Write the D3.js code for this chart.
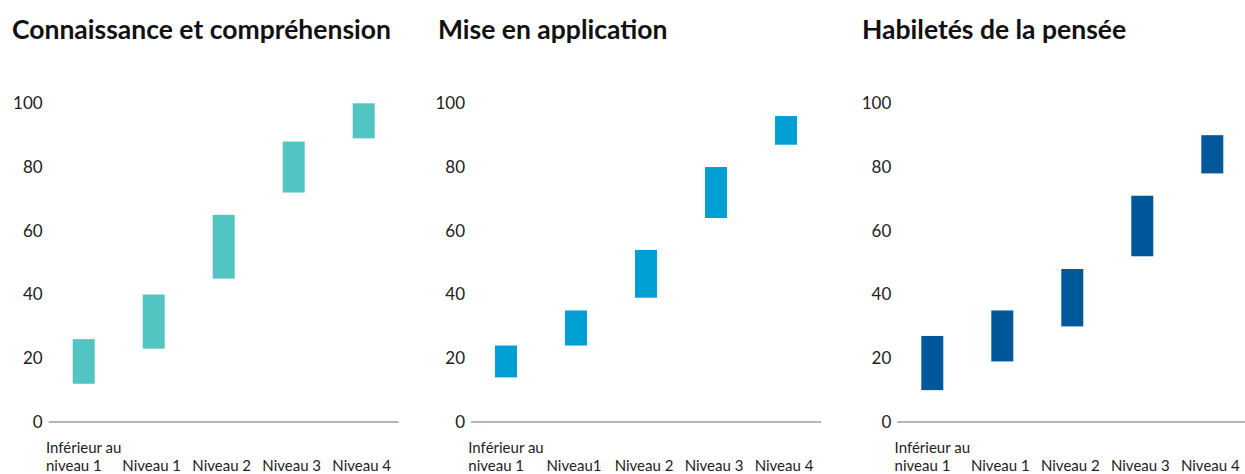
<!DOCTYPE html>
<html>
<head>
<meta charset="utf-8">
<script src="https://cdn.jsdelivr.net/npm/d3@7"></script>
<style>
  body { margin: 0; background: #fff; }
  svg { display: block; font-family: Lato, "Open Sans", sans-serif; }
</style>
</head>
<body>
<svg id="chart" width="1245" height="474"></svg>
<script>
// Chart data
const titles = ["Connaissance et compréhension", "Mise en application", "Habiletés de la pensée"];
const categories1 = ["Inférieur au\nniveau 1", "Niveau 1", "Niveau 2", "Niveau 3", "Niveau 4"];
const categories2 = ["Inférieur au\nniveau 1", "Niveau1", "Niveau 2", "Niveau 3", "Niveau 4"];
const categories3 = ["Inférieur au\nniveau 1", "Niveau 1", "Niveau 2", "Niveau 3", "Niveau 4"];
const low1 = [12, 23, 45, 72, 89];
const high1 = [26, 40, 65, 88, 100];
const low2 = [14, 24, 39, 64, 87];
const high2 = [24, 35, 54, 80, 96];
const low3 = [10, 19, 30, 52, 78];
const high3 = [27, 35, 48, 71, 90];
const yTicks = [0, 20, 40, 60, 80, 100];
const colors = ["#52c4c2", "#009fd4", "#00579a"];

const panels = [
  { title: titles[0], cats: categories1, low: low1, high: high1, color: colors[0], x0: 48.7, tx: 12 },
  { title: titles[1], cats: categories2, low: low2, high: high2, color: colors[1], x0: 471, tx: 438 },
  { title: titles[2], cats: categories3, low: low3, high: high3, color: colors[2], x0: 897.3, tx: 862 }
];

const svg = d3.select("#chart");

// Shared y scale
const y = d3.scaleLinear().domain([0, 100]).range([422, 103.3]);

panels.forEach(p => {
  const g = svg.append("g");

  // Title
  g.append("text")
    .attr("x", p.tx)
    .attr("y", 39)
    .style("font-size", "26.5px")
    .style("font-weight", "700")
    .style("fill", "#111")
    .text(p.title);

  const x = d3.scaleBand()
    .domain(p.cats)
    .range([p.x0, p.x0 + 350])
    .paddingInner(0.686)
    .paddingOuter(0.343);

  // Y axis labels
  const yAxis = g.append("g")
    .attr("transform", `translate(${p.x0},0)`)
    .call(d3.axisLeft(y).tickValues(yTicks).tickSize(0).tickPadding(6));
  yAxis.select(".domain").remove();
  yAxis.selectAll("text")
    .style("font-family", "Lato, sans-serif")
    .style("font-size", "17px")
    .style("fill", "#222");

  // Baseline
  g.append("line")
    .attr("x1", x.range()[0])
    .attr("x2", x.range()[1])
    .attr("y1", y(0))
    .attr("y2", y(0))
    .attr("stroke", "#6d6a6d")
    .attr("stroke-width", 1);

  // Floating bars
  g.selectAll(".bar")
    .data(p.cats.map((c, i) => ({ cat: c, low: p.low[i], high: p.high[i] })))
    .enter()
    .append("rect")
    .attr("class", "bar")
    .attr("x", d => x(d.cat))
    .attr("width", x.bandwidth())
    .attr("y", d => y(d.high))
    .attr("height", d => y(d.low) - y(d.high))
    .attr("fill", p.color);

  // Category labels
  p.cats.forEach(c => {
    const cx = x(c) + x.bandwidth() / 2;
    const lines = c.split("\n");
    const t = g.append("text")
      .style("font-size", "15px")
      .style("fill", "#222");
    if (lines.length === 1) {
      t.attr("x", cx - 2).attr("y", 471).attr("text-anchor", "middle").text(c);
    } else {
      // two lines, left aligned, block centred on the bar
      const spans = lines.map((l, i) => t.append("tspan").attr("y", i === 0 ? 453 : 471).text(l));
      const w = d3.max(spans, s => s.node().getComputedTextLength());
      spans.forEach(s => s.attr("x", cx - w / 2));
    }
  });
});
</script>
</body>
</html>
